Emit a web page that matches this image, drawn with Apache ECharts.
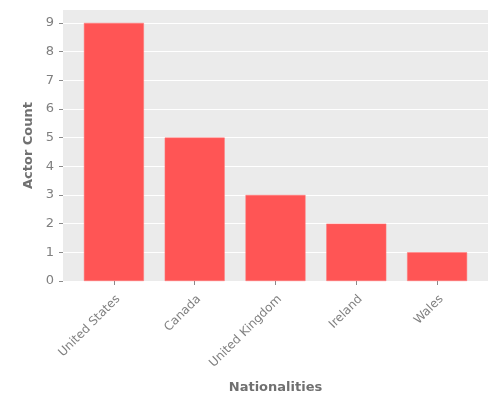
<!DOCTYPE html>
<html>
<head>
<meta charset="utf-8">
<script src="https://cdn.jsdelivr.net/npm/echarts@6/dist/echarts.min.js"></script>
<style>
  html, body { margin: 0; padding: 0; background: #fff; }
  #chart { width: 500px; height: 400px; }
</style>
</head>
<body>
<div id="chart"></div>
<script>
// nationalities and how many actors come from each
const nationalities = ['United States', 'Canada', 'United Kingdom', 'Ireland', 'Wales'];
const actorCounts = [9, 5, 3, 2, 1];
const positions = [1, 2, 3, 4, 5];

const chart = echarts.init(document.getElementById('chart'));

// value x axis so the panel can pad a bit more than half a slot on each side (ggplot-like)
const barData = positions.map((p, i) => [p, actorCounts[i]]);

const option = {
    animation: false,
    textStyle: { fontFamily: 'DejaVu Sans' },
    grid: {
        left: 63, right: 12, top: 10, bottom: 119,
        outerBoundsMode: 'none',
        containLabel: false,
        show: true,
        backgroundColor: '#EBEBEB',
        borderWidth: 0
    },
    xAxis: {
        type: 'value',
        min: 0.37,
        max: 5.63,
        name: 'Nationalities',
        nameLocation: 'middle',
        nameGap: 100,
        nameTextStyle: { color: '#707070', fontSize: 13, fontWeight: 'bold' },
        axisLine: { show: false },
        splitLine: { show: false },
        axisTick: {
            show: true,
            customValues: positions,
            length: 4,
            lineStyle: { color: '#8a8a8a' }
        },
        axisLabel: {
            customValues: positions,
            rotate: 45,
            margin: 12,
            verticalAlign: 'top',
            color: '#7f7f7f',
            fontSize: 12,
            formatter: v => nationalities[Math.round(v) - 1] || ''
        }
    },
    yAxis: {
        type: 'value',
        min: 0,
        max: 9.45,
        interval: 1,
        name: 'Actor Count',
        nameLocation: 'middle',
        nameGap: 23,
        nameTextStyle: { color: '#707070', fontSize: 13, fontWeight: 'bold' },
        axisLine: { show: false },
        axisTick: { show: true, length: 4, lineStyle: { color: '#8a8a8a' } },
        axisLabel: {
            color: '#7f7f7f',
            fontSize: 13,
            margin: 9,
            showMaxLabel: false,
            formatter: v => (Number.isInteger(v) ? String(v) : '')
        },
        splitLine: {
            show: true,
            showMaxLine: false,
            lineStyle: { color: '#ffffff', width: 1 }
        }
    },
    series: [{
        type: 'bar',
        data: barData,
        barWidth: 60,
        itemStyle: {
            color: '#FF5555',
            borderColor: '#FF7777',
            borderWidth: 0.5
        }
    }]
};

chart.setOption(option);
</script>
</body>
</html>
